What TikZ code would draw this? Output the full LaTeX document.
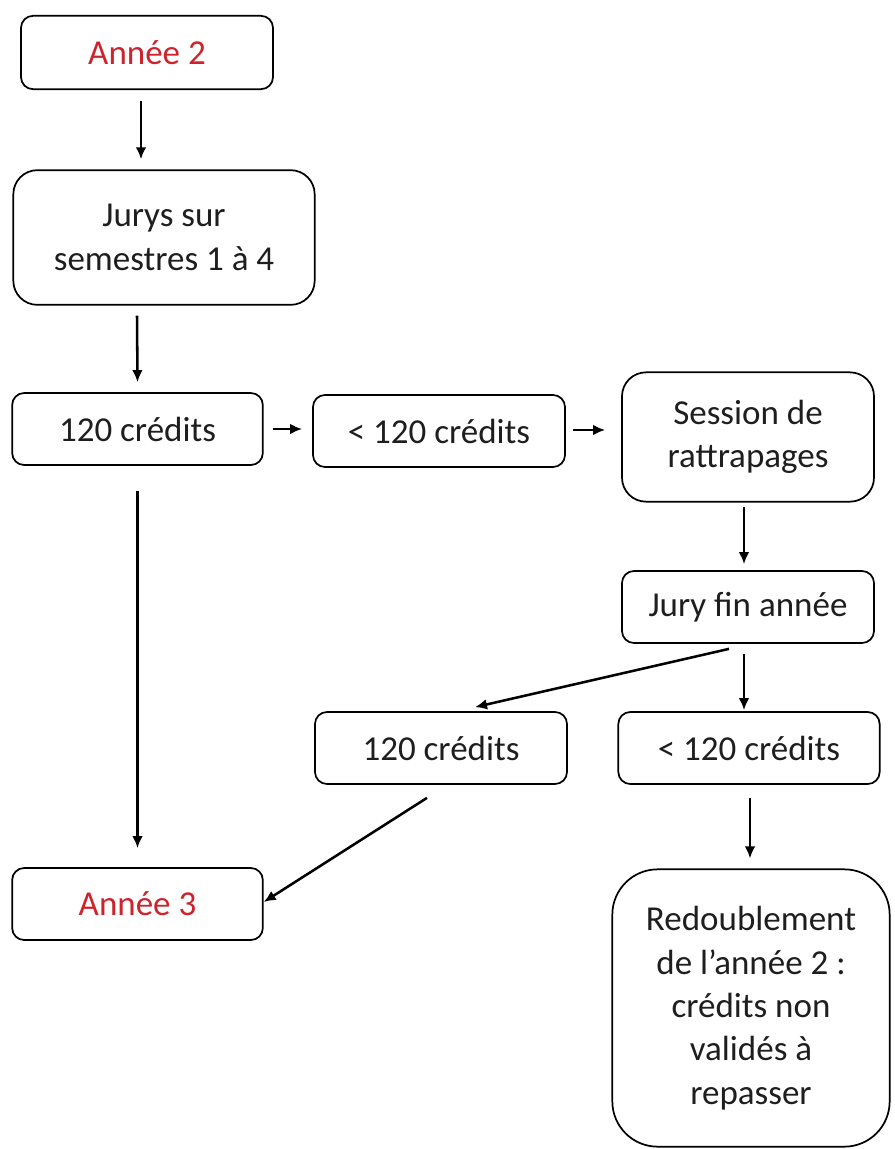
\documentclass[tikz,border=0pt]{standalone}
\usepackage{fontspec}
\setmainfont{Carlito}
\usetikzlibrary{arrows.meta,positioning,calc}
\definecolor{anneered}{RGB}{205,35,45}
\definecolor{txtgray}{RGB}{30,30,30}
\tikzset{
  etape/.style={draw, line width=1.3pt, rounded corners=9pt, align=center, inner sep=0pt,
    text=txtgray, font=\fontsize{26.25}{32.5}\selectfont},
  fleche/.style={-{Latex[length=9pt,width=8pt]}, line width=1.9pt}
}

\begin{document}
\begin{tikzpicture}[x=0.75pt,y=-0.75pt]
  \useasboundingbox (0,0) rectangle (894,1149);
  \node[etape, text=anneered, minimum width=189pt, minimum height=55pt] (annee2) at (147,52.5) {Année 2};
  \node[etape, rounded corners=18pt, minimum width=226pt, minimum height=101pt] (jurys) at (164,237.5) {Jurys sur\\semestres 1 à 4};
  \node[etape, minimum width=188pt, minimum height=54pt] (cred) at (137.5,429) {120 crédits};
  \node[etape, minimum width=189pt, minimum height=54pt] (moins) at (439,431) {< 120 crédits};
  \node[etape, rounded corners=18pt, minimum width=189pt, minimum height=97pt] (session) at (748,437) {Session de\\rattrapages};
  \node[etape, minimum width=189pt, minimum height=54pt] (juryfin) at (748,607) {Jury fin année};
  \node[etape, minimum width=189pt, minimum height=54pt] (cred2) at (441,748) {120 crédits};
  \node[etape, minimum width=196pt, minimum height=54pt] (moins2) at (749,748) {< 120 crédits};
  \node[etape, text=anneered, minimum width=188pt, minimum height=54pt] (annee3) at (137.5,904) {Année 3};
  \node[etape, rounded corners=34pt, minimum width=208pt, minimum height=208pt] (redouble) at (751,1008)
    {Redoublement\\de l’année 2 :\\crédits non\\validés à\\repasser};

  \draw[fleche] ($(annee2.south)+(-6,11)$) -- ($(jurys.north)+(-23,-10)$);
  \draw[fleche] ($(jurys.south)+(-27,10)$) -- ($(cred.north)+(0,-10)$);
  \draw[fleche] ($(cred.east)+(9,0)$) -- ($(moins.west)+(-10,-2)$);
  \draw[fleche] ($(moins.east)+(7,-1)$) -- ($(session.west)+(-16,-7)$);
  \draw[fleche] ($(session.south)+(-4,4)$) -- ($(juryfin.north)+(-4,-6)$);
  \draw[fleche] ($(juryfin.south)+(-4,10)$) -- ($(moins2.north)+(-5,-1)$);
  \draw[fleche] ($(juryfin.south)+(-19,5)$) -- ($(cred2.north)+(34,-4)$);
  \draw[fleche] ($(moins2.south)+(1,13)$) -- ($(redouble.north)+(-1,-10)$);
  \draw[fleche] ($(cred.south)+(0,25)$) -- ($(annee3.north)+(0,-19)$);
  \draw[fleche] ($(cred2.south)+(-14,13)$) -- ($(annee3.east)+(0,-2)$);
\end{tikzpicture}
\end{document}
